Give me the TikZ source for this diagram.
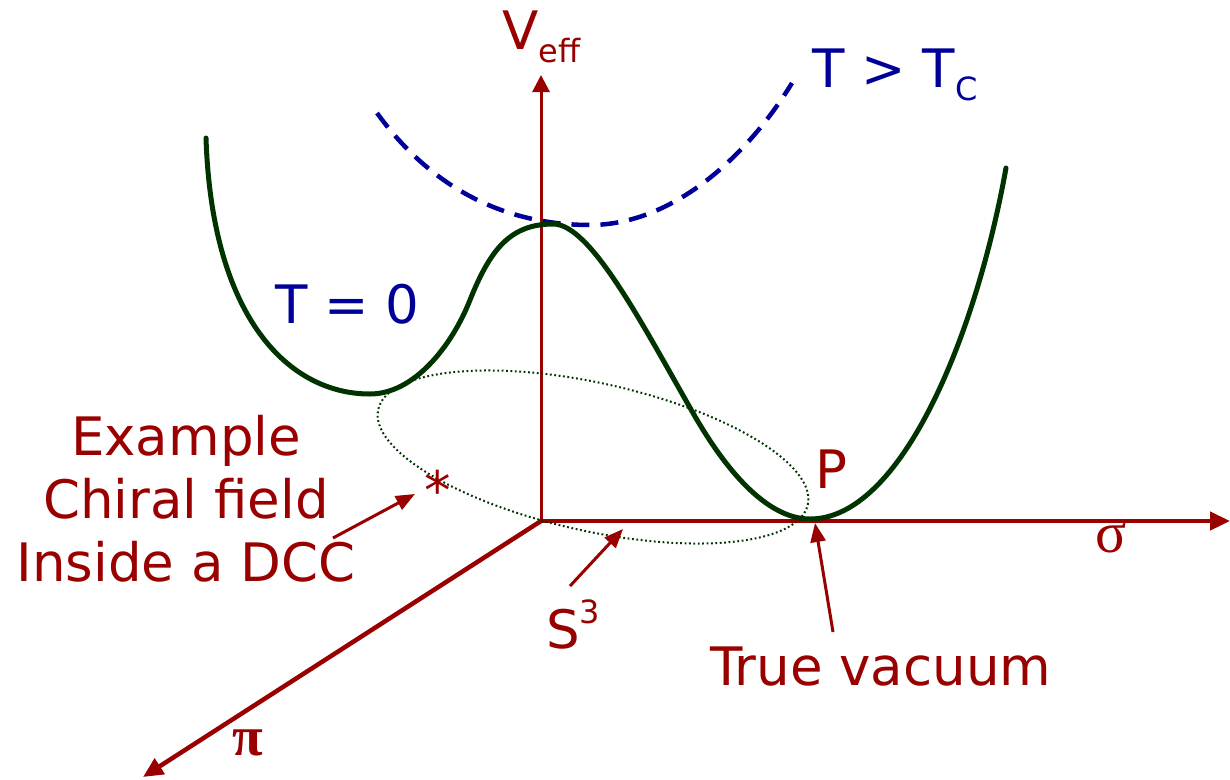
\documentclass[tikz,border=0pt]{standalone}
\usepackage{fontspec}
\setmainfont{DejaVu Sans}
\newfontfamily\serifgreek{Liberation Serif}
\usetikzlibrary{arrows.meta}
\definecolor{dred}{HTML}{990000}
\definecolor{dblue}{HTML}{000099}
\definecolor{dgreen}{HTML}{003300}
\tikzset{
  lbl/.style={inner sep=0pt, text=dred, font=\fontsize{53}{63}\selectfont},
  blbl/.style={inner sep=0pt, text=dblue, font=\fontsize{53}{63}\selectfont},
  axisline/.style={draw=dred, line width=4.5pt, -{Triangle[length=20pt,width=18pt]}},
  vaxis/.style={draw=dred, line width=3pt, -{Triangle[length=17pt,width=17pt]}},
  pointer/.style={draw=dred, line width=3pt, -{Triangle[length=19pt,width=15pt]}},
  potential/.style={draw=dgreen, line width=5pt, line cap=round},
  hotcurve/.style={draw=dblue, line width=4.5pt, dash pattern=on 18pt off 11pt},
  vacring/.style={draw=dgreen, line width=2pt, dash pattern=on 1.8pt off 2.6pt}
}
\begin{document}
\begin{tikzpicture}[x=1pt,y=-1pt]
\useasboundingbox (0,0) rectangle (1230,779);
% axes
\coordinate (O) at (541,521);
\coordinate (vtop) at (541,75);
\coordinate (sigend) at (1230,521);
\coordinate (piend) at (143,777);
\draw[vaxis] (O) -- (vtop);
\draw[axisline] (O) -- (sigend);
\draw[axisline] (O) -- (piend);
% dotted vacuum manifold
\coordinate (C) at (593,457);
\draw[vacring, rotate around={-12.5:(C)}] (C) ellipse [x radius=220pt, y radius=74pt];
% T > Tc curve
\coordinate (h0) at (377,113);
\coordinate (h1) at (590,225);
\coordinate (h2) at (792,83);
\draw[hotcurve] (h0) .. controls (440,200) and (520,225) .. (h1)
                     .. controls (670,225) and (745,160) .. (h2);
% T = 0 curve
\coordinate (g0) at (206,138);
\coordinate (g1) at (370,394);
\coordinate (g2) at (470,300);
\coordinate (g3) at (553,224);
\coordinate (g4) at (693,413);
\coordinate (g5) at (810,519);
\coordinate (g6) at (1006,168);
\draw[potential] (g0) .. controls (212,320) and (290,394) .. (g1)
                      .. controls (413,394) and (451,348) .. (g2)
                      .. controls (490,250) and (510,224) .. (g3)
                      .. controls (590,224) and (640,320) .. (g4)
                      .. controls (740,495) and (780,519) .. (g5)
                      .. controls (900,519) and (975,340) .. (g6);
% labels
\node[lbl, anchor=base west] (veff) at (502,49) {V\raisebox{-13pt}{\fontsize{32}{32}\selectfont eff}};
\node[blbl, anchor=base west] (thot) at (812,87) {T > T\raisebox{-13pt}{\fontsize{32}{32}\selectfont C}};
\node[blbl, anchor=base west] (tzero) at (275,323) {T = 0};
\node[lbl, anchor=base] (ex1) at (186,455) {Example};
\node[lbl, anchor=base] (ex2) at (186,518) {Chiral field};
\node[lbl, anchor=base] (ex3) at (186,581) {Inside a DCC};
\node[lbl, anchor=base] (star) at (438,509) {*};
\node[lbl, anchor=base west] (P) at (815,488) {P};
\node[lbl, anchor=base west] (S3) at (546,648) {S\raisebox{25pt}{\fontsize{32}{32}\selectfont 3}};
\node[lbl, anchor=base west] (tv) at (710,685) {True vacuum};
\node[inner sep=0pt, text=dred, font=\serifgreek\fontsize{58}{58}\selectfont] (sigma) at (1111,538) {σ};
\node[inner sep=0pt, text=dred, font=\serifgreek\bfseries\fontsize{56}{56}\selectfont] (pi) at (248,743) {π};
% pointers
\coordinate (exstart) at (333,538);
\coordinate (extip) at (415,494);
\coordinate (sstart) at (570,586);
\coordinate (stip) at (623,529);
\coordinate (tvstart) at (833,632);
\coordinate (tvtip) at (815,523);
\draw[pointer] (exstart) -- (extip);
\draw[pointer] (sstart) -- (stip);
\draw[pointer] (tvstart) -- (tvtip);
\end{tikzpicture}
\end{document}
